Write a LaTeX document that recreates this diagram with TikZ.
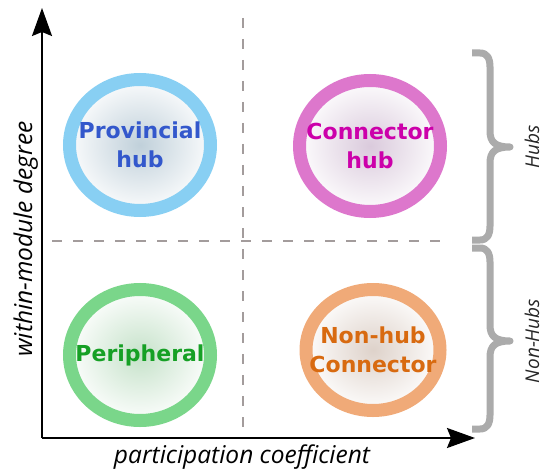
\documentclass[tikz,border=0pt]{standalone}
\usepackage{fontspec}
\usetikzlibrary{shapes.geometric, arrows.meta}
\newfontfamily\rolefont{DejaVu Sans}
\newfontfamily\axisfont{Open Sans}

\definecolor{provring}{HTML}{88CFF3}
\definecolor{provtext}{HTML}{3358CC}
\definecolor{provcore}{HTML}{C0D0DA}
\definecolor{connring}{HTML}{DD77CC}
\definecolor{conntext}{HTML}{CC00AA}
\definecolor{conncore}{HTML}{DACADC}
\definecolor{periring}{HTML}{7AD68A}
\definecolor{peritext}{HTML}{16A025}
\definecolor{pericore}{HTML}{C6E2CA}
\definecolor{nhubring}{HTML}{F0AA78}
\definecolor{nhubtext}{HTML}{D86A10}
\definecolor{nhubcore}{HTML}{DED2CA}
\definecolor{gridgray}{HTML}{A39C9C}
\definecolor{bracegray}{HTML}{ABABAB}

\begin{document}
\begin{tikzpicture}[x=1pt, y=-1pt,
    role/.style={ellipse, line width=13pt, minimum width=141pt, minimum height=131pt,
        inner sep=0pt, shading=radial},
    rolename/.style={inner sep=0pt, align=center,
        font=\rolefont\bfseries\fontsize{22}{29}\selectfont},
    axis/.style={line width=2pt, -{Stealth[length=28pt, width=20pt, inset=4pt]}},
    quadrant/.style={gridgray, line width=2pt, dash pattern=on 10pt off 11pt},
    axislabel/.style={font=\axisfont\itshape\fontsize{24.5}{28}\selectfont, inner sep=0pt},
    grouplabel/.style={font=\axisfont\itshape\fontsize{19}{23}\selectfont, black!85, inner sep=0pt, rotate=90, anchor=base}]
    \useasboundingbox (0,0) rectangle (545,470);
    % Quadrant dividers
    \draw[quadrant] (243,18) -- (243,438);
    \draw[quadrant] (52,241) -- (443,241);
    % Roles
    \node[role, draw=provring, inner color=provcore, outer color=white!92!provcore] (prov) at (140,145) {};
    \node[role, draw=connring, inner color=conncore, outer color=white!94!conncore] (conn) at (370,146) {};
    \node[role, draw=periring, inner color=pericore, outer color=white!94!pericore] (peri) at (140,355) {};
    \node[role, draw=nhubring, inner color=nhubcore, outer color=white!94!nhubcore,
        minimum width=134pt, minimum height=121pt] (nhub) at (373,350) {};
    \node[rolename, text=provtext] (provname) at (prov.center) {Provincial\\hub};
    \node[rolename, text=conntext] (connname) at (conn.center) {Connector\\hub};
    \node[rolename, text=peritext] (periname) at (peri.center) {Peripheral};
    \node[rolename, text=nhubtext] (nhubname) at (nhub.center) {Non-hub\\Connector};
    % Axes
    \coordinate (origin) at (42,438);
    \coordinate (ytip) at (42,8);
    \coordinate (xtip) at (475,438);
    \draw[axis] (origin) -- (ytip);
    \draw[axis] (origin) -- (xtip);
    \node[axislabel, anchor=base] (pc) at (242,463) {participation coefficient};
    \node[axislabel, rotate=90, anchor=base] (wmd) at (32,239) {within-module degree};
    % Braces
    \foreach \top/\bot/\tip/\name/\txt in {53/240/147/hubs/Hubs, 248/429/341/nonhubs/Non-Hubs} {
        \draw[bracegray, line width=7pt, line join=round]
            (472,\top) -- (480,\top) .. controls (487,\top) and (490,{\top+5}) .. (490,{\top+14})
            -- (490,{\tip-16}) .. controls (490,{\tip-5}) and (495,\tip) .. (510,\tip)
            .. controls (495,\tip) and (490,{\tip+5}) .. (490,{\tip+16})
            -- (490,{\bot-14}) .. controls (490,{\bot-5}) and (487,\bot) .. (480,\bot) -- (472,\bot);
        \node[grouplabel] (\name) at (539,\tip) {\txt};
    }
\end{tikzpicture}
\end{document}
